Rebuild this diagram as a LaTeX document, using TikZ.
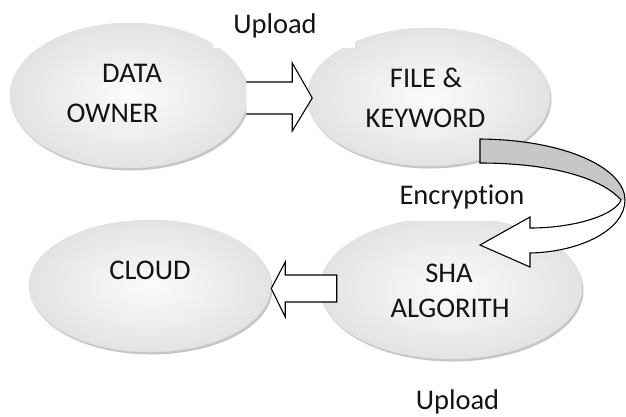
\documentclass[tikz,border=0pt]{standalone}
\usepackage{fontspec}
\setmainfont{Carlito}[Ligatures=NoCommon]
\usetikzlibrary{shapes.geometric,calc}
\begin{document}
\begin{tikzpicture}[x=1pt,y=-1pt,
  bub/.style={shape=ellipse, inner sep=0pt, draw=gray!25, line width=0.5pt,
    shading=radial, inner color=gray!3, outer color=gray!22,
    preaction={fill=gray!45, transform canvas={xshift=1.5pt,yshift=-2.5pt}}},
  lbl/.style={font=\fontsize{28.5}{34}\selectfont, text=black!92, anchor=base, inner sep=0pt},
  blockarrow/.style={draw=black, fill=white, line width=1.1pt, line join=miter},
  ribbon/.style={fill=black!22}
]
\useasboundingbox (0,0) rectangle (626,416);
\fill[white] (0,0) rectangle (626,416);

% ellipses
\node[bub, minimum width=238pt, minimum height=145pt] (d) at (129,95.5) {};
\node[bub, minimum width=243pt, minimum height=138pt] (f) at (428.5,97) {};
\node[bub, minimum width=242pt, minimum height=132pt] (c) at (150,286) {};
\node[bub, minimum width=262pt, minimum height=142pt] (s) at (451,288) {};

% white label backgrounds
\fill[white] (213,0) rectangle (355,48);
\fill[white] (392,176) rectangle (530,221);

% arrow DATA OWNER -> FILE & KEYWORD
\coordinate (a1s) at ($(d.east)+(-2,2.5)$);
\coordinate (a1e) at ($(f.west)+(5.5,1)$);
\draw[blockarrow] ($(a1s)+(0,-16)$) -- ($(a1e)+(-20,-16)$) -- ($(a1e)+(-20,-35)$) -- (a1e)
  -- ($(a1e)+(-20,33)$) -- ($(a1e)+(-20,16)$) -- ($(a1s)+(0,16)$);

% arrow SHA -> CLOUD
\coordinate (a2s) at ($(s.west)+(17,0.5)$);
\coordinate (a2e) at ($(c.east)+(0,2.5)$);
\draw[blockarrow] ($(a2s)+(0,-13.5)$) -- ($(a2e)+(14,-13.5)$) -- ($(a2e)+(14,-26.5)$) -- (a2e)
  -- ($(a2e)+(14,28.5)$) -- ($(a2e)+(14,13.5)$) -- ($(a2s)+(0,13.5)$) -- cycle;

% curved arrow FILE & KEYWORD -> SHA
\coordinate (a3s) at ($(f.center)+(51.5,54)$);
\begin{scope}[shift={(a3s)}]
\fill[white] (0,-12) .. controls (90,-11) and (145,19) .. (145,49)
  .. controls (145,79) and (100,101) .. (50,102) -- (50,116) -- (0,94) -- (50,66) -- (50,77)
  .. controls (95,77) and (135,64) .. (141,49) .. controls (120,25) and (65,12) .. (0,12) -- cycle;
\fill[ribbon] (0,-12) .. controls (90,-11) and (145,19) .. (145,49) -- (141,49)
  .. controls (120,25) and (65,12) .. (0,12) -- cycle;
\draw[line width=1.1pt, line join=miter] (0,-12) .. controls (90,-11) and (145,19) .. (145,49)
  .. controls (145,79) and (100,101) .. (50,102) -- (50,116) -- (0,94) -- (50,66) -- (50,77)
  .. controls (95,77) and (135,64) .. (141,49) .. controls (120,25) and (65,12) .. (0,12) -- cycle;
\end{scope}

% texts
\node[lbl] (u1) at (275,33) {Upload};
\node[lbl] (t1) at (132,82) {DATA};
\node[lbl] (t2) at (112.5,122) {OWNER};
\node[lbl] (t3) at (426,87) {FILE \&};
\node[lbl] (t4) at (425.5,127) {KEYWORD};
\node[lbl] (enc) at (462,204) {Encryption};
\node[lbl] (t5) at (150,279) {CLOUD};
\node[lbl] (t6) at (449,282) {SHA};
\node[lbl] (t7) at (450,317) {ALGORITH};
\node[lbl] (u2) at (457.5,409) {Upload};
\end{tikzpicture}
\end{document}
